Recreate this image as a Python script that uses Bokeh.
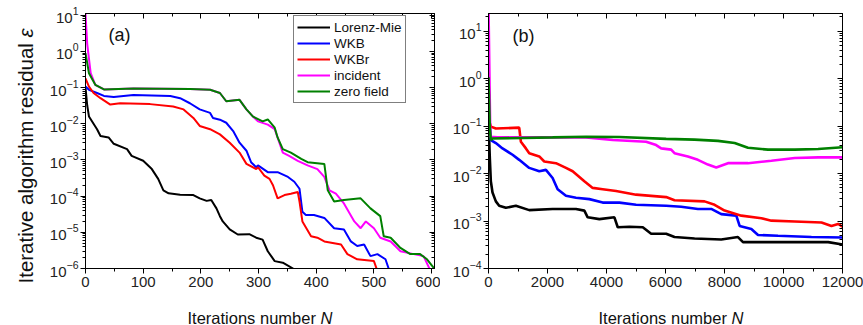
import math
from bokeh.plotting import figure
from bokeh.layouts import row
from bokeh.models import (Range1d, LogAxis, LinearAxis, SingleIntervalTicker, FixedTicker,
                          Legend, LegendItem, Label, CustomJSTickFormatter)
from bokeh.embed import file_html
from bokeh.resources import INLINE

FONT = "Liberation Sans"
SERIES = ["Lorenz-Mie", "WKB", "WKBr", "incident", "zero field"]
COLORS = ["#000000", "#0000FF", "#FF0000", "#FF00FF", "#008000"]

# ---------------- panel (a): iterations 0..600 ----------------
a_lm_n = [0, 3, 6, 20, 26, 40, 49, 72, 80, 100, 115, 126, 135, 144, 164, 187, 198, 210, 218, 227,
          233, 238, 250, 264, 284, 296, 307, 316, 328, 342, 362, 376, 393, 414, 428, 450]
a_lm_v = [1.0e-1, 3.2e-2, 1.6e-2, 7.1e-3, 4.6e-3, 4.2e-3, 2.8e-3, 2.0e-3, 1.3e-3, 9.5e-4, 5.6e-4,
          3.0e-4, 1.45e-4, 1.2e-4, 1.1e-4, 1.07e-4, 8.7e-5, 7.4e-5, 7.8e-5, 4.6e-5, 2.8e-5, 2.0e-5,
          1.2e-5, 8.7e-6, 8.9e-6, 7.1e-6, 6.3e-6, 3.0e-6, 1.6e-6, 1.45e-6, 9.5e-7, 6.5e-7, 3.5e-7,
          2.5e-7, 1.2e-7, 3.4e-8]

a_wkb_n = [0, 6, 20, 32, 49, 83, 147, 164, 181, 198, 216, 221, 233, 244, 256, 267, 279, 287, 296,
           299, 316, 333, 351, 362, 371, 376, 382, 396, 414, 431, 448, 460, 471, 483, 494, 506,
           520, 526, 531, 543, 557, 568, 574, 589, 612]
a_wkb_v = [1.07e-1, 8.7e-2, 7.1e-2, 5.9e-2, 5.5e-2, 6.3e-2, 5.9e-2, 5.1e-2, 3.7e-2, 2.5e-2, 2.0e-2,
           1.45e-2, 1.3e-2, 1.07e-2, 6.3e-3, 3.0e-3, 1.8e-3, 8.7e-4, 6.3e-4, 7.1e-4, 4.6e-4, 4.6e-4,
           3.4e-4, 2.5e-4, 1.6e-4, 3.7e-5, 3.0e-5, 3.0e-5, 2.5e-5, 1.3e-5, 1.2e-5, 5.6e-6, 4.2e-6,
           4.6e-6, 2.2e-6, 2.5e-6, 1.8e-6, 9.5e-7, 6.5e-7, 4.7e-7, 3.5e-7, 2.2e-7, 8.7e-8, 7.9e-8,
           6.3e-8]

a_wkbr_n = [0, 6, 14, 26, 43, 60, 112, 152, 170, 187, 198, 216, 233, 250, 267, 279, 296, 299, 310,
            319, 325, 333, 345, 356, 368, 371, 376, 391, 402, 414, 443, 454, 471, 500, 505, 511,
            519, 530, 554, 566, 589, 606]
a_wkbr_v = [1.8e-1, 1.07e-1, 7.1e-2, 5.1e-2, 3.4e-2, 3.7e-2, 3.5e-2, 3.0e-2, 2.5e-2, 1.45e-2,
            8.7e-3, 7.1e-3, 5.1e-3, 3.0e-3, 1.6e-3, 7.8e-4, 5.6e-4, 6.3e-4, 3.7e-4, 3.0e-4, 2.0e-4,
            8.7e-5, 1.07e-4, 1.17e-4, 1.3e-4, 7.1e-5, 2.0e-5, 7.8e-6, 7.1e-6, 5.6e-6, 4.6e-6,
            2.5e-6, 1.8e-6, 1.6e-6, 9.5e-7, 5.1e-7, 2.8e-7, 1.07e-7, 9.8e-8, 5.8e-8, 4.7e-8, 4.0e-8]

a_inc_n = [0, 3, 9, 17, 32, 83, 181, 216, 233, 244, 267, 279, 290, 299, 316, 328, 342, 353, 368,
           385, 402, 414, 423, 434, 448, 466, 477, 486, 500, 511, 529, 546, 569, 586, 598, 606]
a_inc_v = [11.0, 1.6, 2.5e-1, 1.2e-1, 8.9e-2, 9.5e-2, 9.1e-2, 8.7e-2, 7.1e-2, 4.2e-2, 4.6e-2,
           2.5e-2, 1.6e-2, 1.17e-2, 9.5e-3, 7.1e-3, 1.6e-3, 1.3e-3, 9.5e-4, 7.1e-4, 5.6e-4, 3.4e-4,
           1.45e-4, 1.17e-4, 6.3e-5, 2.0e-5, 1.3e-5, 2.0e-5, 1.3e-5, 7.1e-6, 5.6e-6, 3.0e-6,
           2.5e-6, 2.2e-6, 8.7e-7, 5.5e-7]

a_zero_n = [0, 6, 17, 32, 83, 181, 216, 233, 244, 267, 279, 290, 307, 316, 328, 333, 342, 356, 374,
            385, 414, 420, 431, 448, 477, 494, 511, 517, 529, 546, 563, 580, 592, 603, 612]
a_zero_v = [0.9, 2.5e-1, 1.2e-1, 8.9e-2, 9.5e-2, 9.1e-2, 8.7e-2, 7.1e-2, 4.2e-2, 4.6e-2, 2.5e-2,
            1.6e-2, 1.17e-2, 1.32e-2, 7.8e-3, 4.2e-3, 2.0e-3, 1.6e-3, 1.07e-3, 8.7e-4, 7.8e-4,
            1.45e-4, 7.1e-5, 7.8e-5, 8.7e-5, 4.6e-5, 2.8e-5, 7.8e-6, 7.1e-6, 3.7e-6, 2.5e-6,
            2.5e-6, 1.8e-6, 1.07e-6, 7.5e-7]

# ---------------- panel (b): iterations 0..12000 ----------------
b_lm_n = [0, 45, 79, 136, 249, 362, 589, 928, 1381, 2173, 2966, 3249, 3362, 3758, 4268, 4381,
          4777, 5230, 5513, 6022, 6305, 6985, 7890, 8457, 8627, 9250, 10382, 11514, 12000]
b_lm_v = [1.3e-1, 2.1e-2, 6.9e-3, 4.0e-3, 2.6e-3, 2.1e-3, 1.9e-3, 2.1e-3, 1.7e-3, 1.8e-3, 1.8e-3,
          1.66e-3, 1.2e-3, 1.1e-3, 1.2e-3, 7.4e-4, 7.6e-4, 7.4e-4, 5.4e-4, 5.4e-4, 4.6e-4, 4.3e-4,
          4.1e-4, 4.6e-4, 3.6e-4, 3.6e-4, 3.6e-4, 3.6e-4, 3.2e-4]

b_wkb_n = [0, 79, 249, 475, 815, 1041, 1381, 1721, 1947, 2173, 2343, 2626, 2966, 3418, 3871, 4437,
           5003, 6022, 6532, 7098, 7551, 7890, 8400, 8513, 8910, 9136, 9815, 10947, 12000]
b_wkb_v = [3.0e-1, 5.1e-2, 4.4e-2, 3.4e-2, 2.5e-2, 1.95e-2, 1.32e-2, 1.12e-2, 1.2e-2, 8.1e-3,
           4.7e-3, 3.4e-3, 3.1e-3, 2.9e-3, 2.45e-3, 2.45e-3, 2.2e-3, 2.1e-3, 2.0e-3, 1.8e-3,
           1.8e-3, 1.4e-3, 1.3e-3, 7.9e-4, 6.8e-4, 5.1e-4, 4.9e-4, 4.6e-4, 4.5e-4]

b_wkbr_n = [0, 79, 249, 1041, 1098, 1268, 1381, 1721, 1890, 2286, 2626, 2853, 3249, 3532, 3871,
            4324, 5003, 6022, 6305, 7324, 7664, 8004, 8570, 9250, 9589, 10382, 11288, 11626,
            11853, 12000]
b_wkbr_v = [1.45e-1, 9.8e-2, 8.9e-2, 9.3e-2, 4.7e-2, 3.4e-2, 2.7e-2, 2.3e-2, 1.8e-2, 1.66e-2,
            1.32e-2, 1.12e-2, 6.9e-3, 5.0e-3, 4.7e-3, 4.3e-3, 3.6e-3, 3.2e-3, 2.75e-3, 2.6e-3,
            2.2e-3, 1.66e-3, 1.3e-3, 1.15e-3, 1.02e-3, 9.8e-4, 9.3e-4, 7.9e-4, 8.7e-4, 7.6e-4]

b_inc_n = [0, 60, 300, 3305, 4211, 5343, 5683, 5853, 6192, 6305, 6758, 7098, 7438, 7720, 8117,
           8796, 9589, 10382, 11174, 12000]
b_inc_v = [30.0, 6.0e-2, 5.8e-2, 5.8e-2, 5.1e-2, 4.7e-2, 4.0e-2, 3.4e-2, 3.2e-2, 2.7e-2, 2.3e-2,
           1.95e-2, 1.55e-2, 1.35e-2, 1.66e-2, 1.66e-2, 1.86e-2, 2.14e-2, 2.2e-2, 2.2e-2]

b_zero_n = [0, 45, 79, 136, 2173, 3305, 4437, 6022, 6985, 7777, 8344, 8795, 9475, 10382, 11174,
            12000]
b_zero_v = [1.07, 8.9e-2, 5.1e-2, 5.5e-2, 5.8e-2, 6.0e-2, 5.9e-2, 5.4e-2, 5.2e-2, 4.9e-2, 4.4e-2,
            3.5e-2, 3.2e-2, 3.2e-2, 3.3e-2, 3.6e-2]


def decade_ticker(lo, hi):
    return FixedTicker(ticks=[10.0 ** k for k in range(lo, hi + 1)],
                       minor_ticks=[m * 10.0 ** k for k in range(lo - 1, hi + 1) for m in range(2, 10)])


def make_panel(width, xr, yr, lo, hi, interval, border_left, border_right):
    p = figure(width=width, height=325, x_range=Range1d(*xr), y_range=Range1d(*yr),
               y_axis_type="log", output_backend="svg", toolbar_location=None,
               min_border_left=border_left, min_border_right=border_right,
               min_border_top=13, min_border_bottom=54)
    p.background_fill_color = "white"
    p.border_fill_color = "white"
    p.outline_line_color = "black"
    p.outline_line_width = 1
    p.grid.visible = False
    xt = SingleIntervalTicker(interval=interval, num_minor_ticks=2)
    yt = decade_ticker(lo, hi)
    p.xaxis.ticker = xt
    p.yaxis.ticker = yt
    for ax in (p.xaxis[0], p.yaxis[0]):
        ax.axis_line_color = "black"
        ax.major_tick_line_color = "black"
        ax.minor_tick_line_color = "black"
        ax.major_tick_out = 5
        ax.major_tick_in = 0
        ax.minor_tick_out = 3
        ax.minor_tick_in = 0
        ax.major_label_text_font = FONT
        ax.major_label_text_font_size = "15px"
        ax.major_label_text_color = "#222222"
    p.xaxis.major_label_standoff = 3
    p.yaxis.major_label_standoff = 2
    blank = CustomJSTickFormatter(code="return ''")
    mirrors = [(LogAxis(ticker=yt, formatter=blank), "right"),
               (LinearAxis(ticker=xt, formatter=blank), "above")]
    for ax, side in mirrors:
        ax.major_tick_in = 5
        ax.major_tick_out = 0
        ax.minor_tick_in = 3
        ax.minor_tick_out = 0
        ax.major_label_standoff = 0
        ax.major_label_text_font_size = "1px"
        ax.major_label_text_color = None
        ax.axis_line_color = "black"
        p.add_layout(ax, side)
    return p


CANVAS = dict(x_units="canvas", y_units="canvas", text_font=FONT, text_color="#111111")


def titles(p, xleft, panel_text, px, py):
    p.add_layout(Label(x=xleft, y=317, text="Iterations number", text_font_size="16.5px",
                       text_baseline="alphabetic", text_align="left", **CANVAS), "below")
    p.add_layout(Label(x=xleft + 133, y=317, text="N", text_font_size="16.5px",
                       text_font_style="italic", text_baseline="alphabetic", text_align="left",
                       **CANVAS), "below")
    p.add_layout(Label(x=px, y=py, text=panel_text, text_font_size="18px", x_units="screen",
                       y_units="screen", text_font=FONT, text_color="#111111",
                       text_baseline="middle", text_align="left"))


pa = make_panel(440, (0, 605), (1e-6, 11.2), -6, 1, 100, 82, 6)
pb = make_panel(423, (0, 12000), (1e-4, 23.7), -4, 1, 2000, 48, 21)

titles(pa, 187, "(a)", 23, 234)
titles(pb, 158, "(b)", 24, 233)

ycommon = dict(text_font_size="20.5px", angle=math.pi / 2, text_baseline="alphabetic",
               text_align="left", **CANVAS)
pa.add_layout(Label(x=25, y=283, text="Iterative algorithm residual", **ycommon), "left")
pa.add_layout(Label(x=25, y=37, text="\u03b5", text_font_style="italic", **ycommon), "left")

a_series = [(a_lm_n, a_lm_v), (a_wkb_n, a_wkb_v), (a_wkbr_n, a_wkbr_v), (a_inc_n, a_inc_v),
            (a_zero_n, a_zero_v)]
b_series = [(b_lm_n, b_lm_v), (b_wkb_n, b_wkb_v), (b_wkbr_n, b_wkbr_v), (b_inc_n, b_inc_v),
            (b_zero_n, b_zero_v)]

items = []
for name, color, (n, v) in zip(SERIES, COLORS, a_series):
    r = pa.line(n, v, line_color=color, line_width=2)
    items.append(LegendItem(label=name, renderers=[r]))

for name, color, (n, v) in zip(SERIES, COLORS, b_series):
    pb.line(n, v, line_color=color, line_width=2.6)

legend = Legend(items=items, location=(208, 165), orientation="vertical",
                border_line_color="black", border_line_width=1, background_fill_color="white",
                background_fill_alpha=1, padding=3, spacing=0, margin=0, label_standoff=4,
                glyph_width=33, glyph_height=16, label_height=16,
                label_text_font=FONT, label_text_font_size="13.5px", label_text_color="#111111")
pa.add_layout(legend)

layout = row(pa, pb)
open("out.html", "w").write(file_html(layout, INLINE))
